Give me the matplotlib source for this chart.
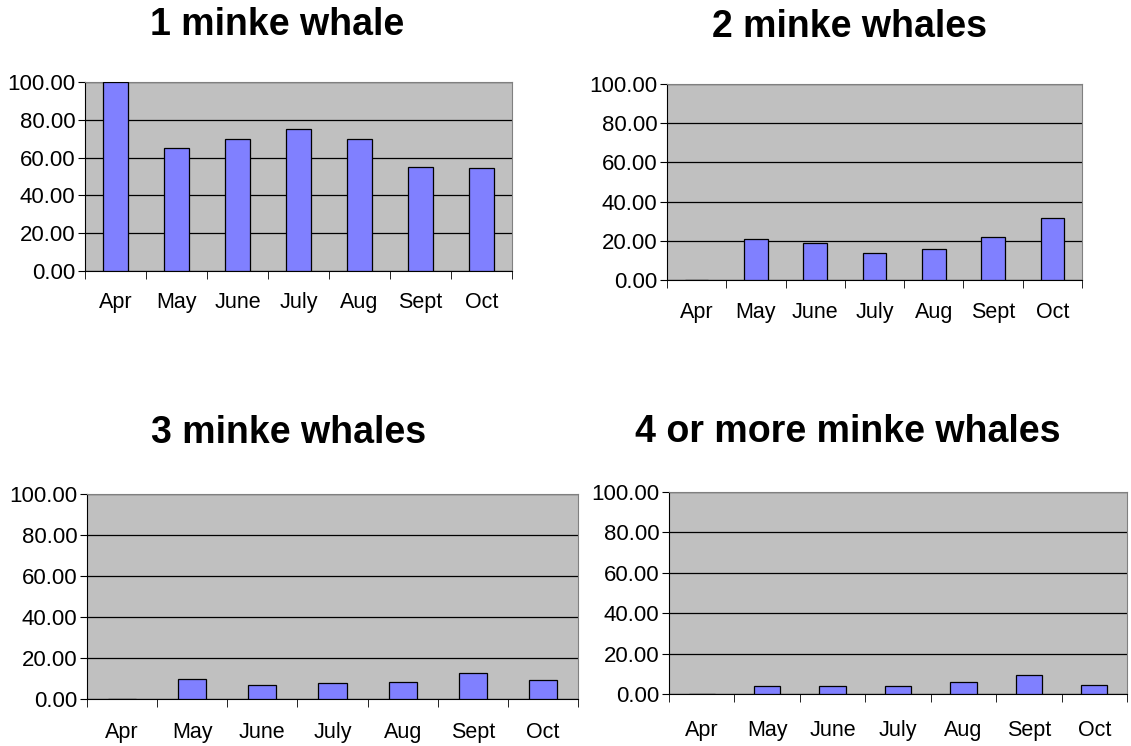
import matplotlib.pyplot as plt
import numpy as np

plt.rcParams['font.family'] = ['Liberation Sans', 'DejaVu Sans']

months = ["Apr", "May", "June", "July", "Aug", "Sept", "Oct"]

one_whale = [100.0, 65.2, 70.1, 74.9, 69.9, 55.2, 54.3]
two_whales = [0.0, 21.1, 18.7, 13.6, 15.8, 22.1, 31.5]
three_whales = [0.0, 9.7, 6.8, 7.8, 8.3, 12.7, 9.1]
four_plus_whales = [0.0, 3.8, 4.0, 3.8, 5.9, 9.4, 4.5]

titles = ["1 minke whale", "2 minke whales", "3 minke whales", "4 or more minke whales"]
series = [one_whale, two_whales, three_whales, four_plus_whales]

# axes rectangles in pixels: left, right, top, bottom
W, H = 1131, 746
boxes = [(85, 512, 82, 271), (667, 1082, 84, 280),
         (87, 578, 494, 699), (669, 1127, 492, 694)]
title_pos = [(277, 25), (849, 27), (289, 433), (848, 432)]
label_pads = [15, 16, 16.5, 18.5]

fig = plt.figure(figsize=(W / 100, H / 100), dpi=100)

for vals, title, (l, r, t, b), (tx, ty), pad in zip(series, titles, boxes, title_pos, label_pads):
    ax = fig.add_axes([l / W, 1 - b / H, (r - l) / W, (b - t) / H])
    x = np.arange(len(months))
    ax.set_facecolor('#C0C0C0')
    ax.bar(x, vals, width=0.4, color='#8080FF', edgecolor='black', linewidth=0.9, zorder=3)
    ax.set_xlim(-0.5, len(months) - 0.5)
    ax.set_ylim(0, 100)
    ax.set_yticks(np.arange(0, 101, 20))
    ax.set_yticklabels([f"{v:.2f}" for v in range(0, 101, 20)], fontsize=16)
    ax.yaxis.grid(True, color='black', linewidth=0.9, zorder=1)
    ax.set_xticks(x)
    ax.set_xticklabels(months, fontsize=15.5)
    ax.tick_params(axis='x', which='major', length=0, pad=pad)
    ax.set_xticks(np.arange(-0.5, len(months)), minor=True)
    ax.tick_params(axis='x', which='minor', length=6, direction='out', color='black')
    ax.tick_params(axis='y', length=5, direction='out', pad=2)
    for side in ['top', 'right']:
        ax.spines[side].set_color('#808080')
    for side in ['left', 'bottom']:
        ax.spines[side].set_color('black')
    fig.text(tx / W, 1 - ty / H, title, ha='center', va='center',
             fontsize=27, fontweight='bold')

fig.savefig('out.png', dpi=100)
